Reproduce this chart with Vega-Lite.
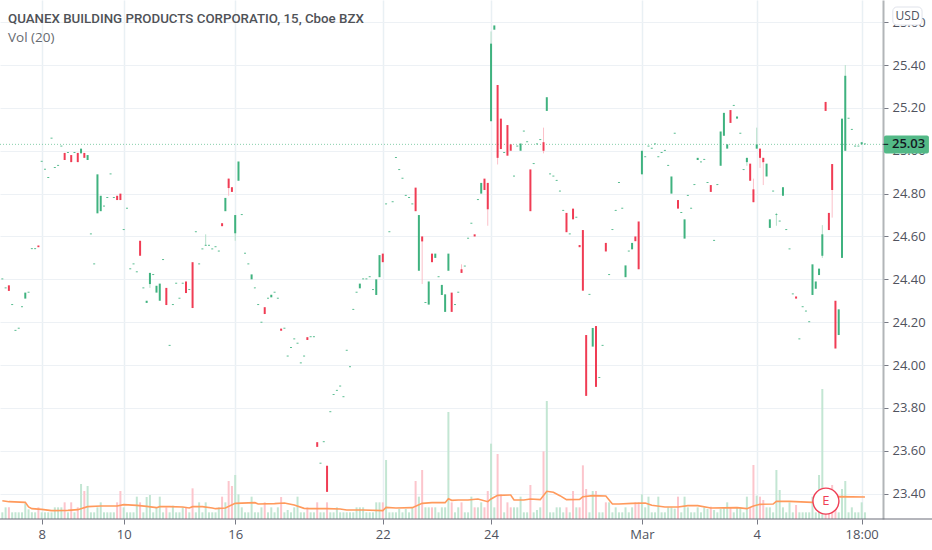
{
  "$schema": "https://vega.github.io/schema/vega-lite/v6.json",
  "width": 883,
  "height": 519,
  "autosize": "none",
  "padding": {"left": 0, "top": 0, "right": 49, "bottom": 31},
  "background": "#ffffff",
  "config": {"view": {"stroke": null}, "font": "Open Sans"},
  "title": {
    "text": "QUANEX BUILDING PRODUCTS CORPORATIO, 15, Cboe BZX",
    "subtitle": "Vol (20)",
    "anchor": "start",
    "frame": "group",
    "offset": -44,
    "dx": 8,
    "font": "Roboto",
    "fontSize": 13.3,
    "fontWeight": 500,
    "color": "#4f5257",
    "subtitleFont": "Open Sans",
    "subtitleFontSize": 13.5,
    "subtitleColor": "#666a70",
    "subtitlePadding": 5
  },
  "datasets": {
    "bars": [
      {"bar":0,"open":24.4,"close":24.404,"volume":100},
      {"bar":1,"open":24.358,"close":24.362,"volume":175},
      {"bar":2,"open":24.372,"close":24.346,"volume":175},
      {"bar":3,"open":24.28,"close":24.284,"volume":100},
      {"bar":4,"open":24.16,"close":24.164,"volume":100},
      {"bar":5,"open":24.17,"close":24.174,"volume":100},
      {"bar":6,"open":24.27,"close":24.274,"volume":100},
      {"bar":7,"open":24.31,"close":24.338,"volume":235},
      {"bar":8,"open":24.338,"close":24.342,"volume":145},
      {"bar":9,"open":24.541,"close":24.545,"volume":100},
      {"bar":10,"open":24.541,"close":24.545,"volume":100},
      {"bar":11,"open":24.558,"close":24.55,"volume":175},
      {"bar":12,"open":24.949,"close":24.953,"volume":100},
      {"bar":13,"open":24.912,"close":24.916,"volume":100},
      {"bar":14,"open":24.873,"close":24.877,"volume":100},
      {"bar":15,"open":25.057,"close":25.061,"volume":100},
      {"bar":16,"open":24.92,"close":24.924,"volume":175},
      {"bar":17,"open":24.93,"close":24.934,"volume":175},
      {"bar":18,"open":25.02,"close":25.024,"volume":175},
      {"bar":19,"open":24.99,"close":24.957,"volume":250},
      {"bar":20,"open":24.99,"close":24.994,"volume":100},
      {"bar":21,"open":24.98,"close":24.947,"volume":250},
      {"bar":22,"open":24.99,"close":24.994,"volume":100},
      {"bar":23,"open":24.99,"close":24.947,"volume":175},
      {"bar":24,"open":24.988,"close":25.01,"volume":525},
      {"bar":25,"open":24.99,"close":24.967,"volume":420},
      {"bar":26,"open":24.957,"close":24.98,"volume":495},
      {"bar":27,"open":24.61,"close":24.614,"volume":100},
      {"bar":28,"open":24.47,"close":24.474,"volume":100},
      {"bar":29,"open":24.708,"close":24.89,"volume":175},
      {"bar":30,"open":24.718,"close":24.79,"volume":250},
      {"bar":31,"open":24.74,"close":24.744,"volume":100},
      {"bar":32,"open":24.78,"close":24.784,"volume":100},
      {"bar":33,"open":24.89,"close":24.894,"volume":100},
      {"bar":34,"open":24.78,"close":24.784,"volume":100},
      {"bar":35,"open":24.79,"close":24.77,"volume":250},
      {"bar":36,"open":24.8,"close":24.77,"volume":420},
      {"bar":37,"open":24.63,"close":24.634,"volume":175},
      {"bar":38,"open":24.73,"close":24.734,"volume":100},
      {"bar":39,"open":24.447,"close":24.451,"volume":100},
      {"bar":40,"open":24.47,"close":24.474,"volume":100},
      {"bar":41,"open":24.433,"close":24.437,"volume":335},
      {"bar":42,"open":24.58,"close":24.51,"volume":250},
      {"bar":43,"open":24.358,"close":24.362,"volume":100},
      {"bar":44,"open":24.29,"close":24.3,"volume":330},
      {"bar":45,"open":24.378,"close":24.43,"high":24.43,"low":24.36,"volume":360},
      {"bar":46,"open":24.42,"close":24.424,"volume":100},
      {"bar":47,"open":24.338,"close":24.37,"volume":175},
      {"bar":48,"open":24.3,"close":24.38,"volume":335},
      {"bar":49,"open":24.49,"close":24.494,"volume":100},
      {"bar":50,"open":24.36,"close":24.28,"volume":175},
      {"bar":51,"open":24.09,"close":24.094,"volume":100},
      {"bar":52,"open":24.28,"close":24.284,"volume":200},
      {"bar":53,"open":24.38,"close":24.384,"volume":100},
      {"bar":54,"open":24.31,"close":24.314,"volume":100},
      {"bar":55,"open":24.38,"close":24.384,"volume":175},
      {"bar":56,"open":24.39,"close":24.336,"volume":175},
      {"bar":57,"open":24.35,"close":24.354,"volume":100},
      {"bar":58,"open":24.48,"close":24.266,"volume":460},
      {"bar":59,"open":24.62,"close":24.624,"volume":100},
      {"bar":60,"open":24.47,"close":24.474,"volume":250},
      {"bar":61,"open":24.54,"close":24.544,"volume":100},
      {"bar":62,"open":24.557,"close":24.561,"high":24.61,"low":24.557,"volume":250},
      {"bar":63,"open":24.557,"close":24.561,"volume":100},
      {"bar":64,"open":24.54,"close":24.544,"volume":100},
      {"bar":65,"open":24.55,"close":24.554,"volume":100},
      {"bar":66,"open":24.53,"close":24.534,"volume":175},
      {"bar":67,"open":24.662,"close":24.648,"volume":335},
      {"bar":68,"open":24.718,"close":24.78,"volume":250},
      {"bar":69,"open":24.87,"close":24.826,"high":24.87,"low":24.79,"volume":570},
      {"bar":70,"open":24.83,"close":24.808,"volume":495},
      {"bar":71,"open":24.615,"close":24.7,"high":24.7,"low":24.58,"volume":660},
      {"bar":72,"open":24.86,"close":24.95,"volume":370},
      {"bar":73,"open":24.7,"close":24.704,"volume":175},
      {"bar":74,"open":24.52,"close":24.524,"volume":100},
      {"bar":75,"open":24.47,"close":24.474,"volume":100},
      {"bar":76,"open":24.4,"close":24.423,"volume":335},
      {"bar":77,"open":24.358,"close":24.362,"volume":100},
      {"bar":78,"open":24.28,"close":24.284,"volume":100},
      {"bar":79,"open":24.198,"close":24.202,"volume":175},
      {"bar":80,"open":24.27,"close":24.238,"volume":250},
      {"bar":81,"open":24.31,"close":24.314,"volume":100},
      {"bar":82,"open":24.316,"close":24.328,"volume":175},
      {"bar":83,"open":24.338,"close":24.342,"volume":100},
      {"bar":84,"open":24.31,"close":24.314,"volume":175},
      {"bar":85,"open":24.17,"close":24.16,"volume":330},
      {"bar":86,"open":24.17,"close":24.174,"volume":100},
      {"bar":87,"open":24.04,"close":24.044,"volume":135},
      {"bar":88,"open":24.08,"close":24.084,"volume":100},
      {"bar":89,"open":24.12,"close":24.124,"volume":175},
      {"bar":90,"open":24.1,"close":24.104,"volume":335},
      {"bar":91,"open":24.008,"close":24.012,"volume":100},
      {"bar":92,"open":24.04,"close":24.044,"volume":100},
      {"bar":93,"open":24.13,"close":24.117,"volume":175},
      {"bar":94,"open":24.13,"close":24.134,"volume":100},
      {"bar":95,"open":24.13,"close":24.134,"volume":100},
      {"bar":96,"open":23.64,"close":23.618,"volume":250},
      {"bar":97,"open":23.54,"close":23.544,"volume":100},
      {"bar":98,"open":23.64,"close":23.644,"volume":100},
      {"bar":99,"open":23.53,"close":23.408,"volume":250},
      {"bar":100,"open":23.78,"close":23.784,"volume":100},
      {"bar":101,"open":23.86,"close":23.864,"volume":100},
      {"bar":102,"open":23.88,"close":23.884,"volume":175},
      {"bar":103,"open":23.9,"close":23.904,"volume":100},
      {"bar":104,"open":23.85,"close":23.854,"volume":100},
      {"bar":105,"open":24.067,"close":24.071,"volume":100},
      {"bar":106,"open":23.99,"close":23.994,"volume":100},
      {"bar":107,"open":24.258,"close":24.262,"volume":100},
      {"bar":108,"open":24.338,"close":24.342,"volume":175},
      {"bar":109,"open":24.358,"close":24.38,"volume":175},
      {"bar":110,"open":24.4,"close":24.404,"volume":175},
      {"bar":111,"open":24.4,"close":24.404,"volume":100},
      {"bar":112,"open":24.41,"close":24.414,"volume":100},
      {"bar":113,"open":24.35,"close":24.354,"volume":100},
      {"bar":114,"open":24.327,"close":24.4,"volume":250},
      {"bar":115,"open":24.41,"close":24.513,"volume":250},
      {"bar":116,"open":24.52,"close":24.48,"volume":250},
      {"bar":117,"open":24.75,"close":24.754,"volume":885},
      {"bar":118,"open":24.62,"close":24.624,"volume":100},
      {"bar":119,"open":24.76,"close":24.764,"volume":100},
      {"bar":120,"open":24.967,"close":24.971,"volume":100},
      {"bar":121,"open":24.91,"close":24.914,"volume":150},
      {"bar":122,"open":24.87,"close":24.874,"volume":100},
      {"bar":123,"open":24.79,"close":24.794,"volume":150},
      {"bar":124,"open":24.78,"close":24.784,"volume":100},
      {"bar":125,"open":24.75,"close":24.754,"volume":175},
      {"bar":126,"open":24.828,"close":24.718,"volume":570},
      {"bar":127,"open":24.44,"close":24.7,"volume":335},
      {"bar":128,"open":24.6,"close":24.577,"high":24.6,"low":24.378,"volume":735},
      {"bar":129,"open":24.29,"close":24.294,"volume":175},
      {"bar":130,"open":24.282,"close":24.39,"volume":175},
      {"bar":131,"open":24.52,"close":24.48,"volume":175},
      {"bar":132,"open":24.5,"close":24.52,"volume":175},
      {"bar":133,"open":24.41,"close":24.414,"volume":100},
      {"bar":134,"open":24.327,"close":24.374,"volume":175},
      {"bar":135,"open":24.248,"close":24.33,"volume":175},
      {"bar":136,"open":24.44,"close":24.52,"volume":1605},
      {"bar":137,"open":24.338,"close":24.248,"volume":250},
      {"bar":138,"open":24.28,"close":24.284,"volume":100},
      {"bar":139,"open":24.338,"close":24.342,"volume":175},
      {"bar":140,"open":24.447,"close":24.43,"high":24.47,"low":24.43,"volume":250},
      {"bar":141,"open":24.46,"close":24.464,"volume":100},
      {"bar":142,"open":24.59,"close":24.594,"volume":100},
      {"bar":143,"open":24.66,"close":24.664,"volume":335},
      {"bar":144,"open":24.61,"close":24.6,"volume":175},
      {"bar":145,"open":24.77,"close":24.774,"volume":175},
      {"bar":146,"open":24.8,"close":24.85,"volume":250},
      {"bar":147,"open":24.87,"close":24.817,"volume":175},
      {"bar":148,"open":24.85,"close":24.727,"high":24.85,"low":24.65,"volume":420},
      {"bar":149,"open":25.138,"close":25.5,"high":25.557,"low":25.138,"volume":1130},
      {"bar":150,"open":25.565,"close":25.585,"volume":175},
      {"bar":151,"open":25.307,"close":24.967,"high":25.307,"low":24.936,"volume":975},
      {"bar":152,"open":25.15,"close":25.008,"volume":370},
      {"bar":153,"open":24.99,"close":24.994,"volume":100},
      {"bar":154,"open":25.12,"close":24.977,"volume":250},
      {"bar":155,"open":25.03,"close":25.0,"volume":175},
      {"bar":156,"open":24.88,"close":24.884,"volume":175},
      {"bar":157,"open":25.02,"close":25.024,"volume":175},
      {"bar":158,"open":25.0,"close":25.034,"volume":335},
      {"bar":159,"open":25.09,"close":25.094,"volume":100},
      {"bar":160,"open":25.04,"close":25.044,"volume":100},
      {"bar":161,"open":24.913,"close":24.718,"volume":510},
      {"bar":162,"open":24.938,"close":24.942,"volume":100},
      {"bar":163,"open":25.03,"close":25.034,"volume":135},
      {"bar":164,"open":25.05,"close":25.054,"volume":175},
      {"bar":165,"open":25.04,"close":25.0,"high":25.108,"low":24.988,"volume":1015},
      {"bar":166,"open":25.186,"close":25.25,"volume":1770},
      {"bar":167,"open":24.89,"close":24.894,"volume":100},
      {"bar":168,"open":24.88,"close":24.884,"volume":100},
      {"bar":169,"open":24.86,"close":24.864,"volume":175},
      {"bar":170,"open":24.81,"close":24.814,"volume":175},
      {"bar":171,"open":24.72,"close":24.724,"volume":100},
      {"bar":172,"open":24.71,"close":24.62,"volume":175},
      {"bar":173,"open":24.61,"close":24.614,"volume":100},
      {"bar":174,"open":24.73,"close":24.68,"volume":420},
      {"bar":175,"open":24.688,"close":24.692,"volume":175},
      {"bar":176,"open":24.56,"close":24.55,"volume":175},
      {"bar":177,"open":24.63,"close":24.347,"volume":805},
      {"bar":178,"open":24.14,"close":23.856,"volume":450},
      {"bar":179,"open":24.328,"close":24.332,"volume":100},
      {"bar":180,"open":24.086,"close":24.173,"volume":420},
      {"bar":181,"open":24.182,"close":23.898,"volume":420},
      {"bar":182,"open":23.94,"close":23.944,"volume":100},
      {"bar":183,"open":24.09,"close":24.094,"volume":100},
      {"bar":184,"open":24.57,"close":24.53,"volume":250},
      {"bar":185,"open":24.42,"close":24.424,"volume":250},
      {"bar":186,"open":24.63,"close":24.634,"volume":100},
      {"bar":187,"open":24.72,"close":24.724,"volume":175},
      {"bar":188,"open":24.85,"close":24.854,"volume":100},
      {"bar":189,"open":24.73,"close":24.734,"volume":100},
      {"bar":190,"open":24.41,"close":24.465,"volume":175},
      {"bar":191,"open":24.53,"close":24.534,"volume":100},
      {"bar":192,"open":24.54,"close":24.57,"volume":175},
      {"bar":193,"open":24.6,"close":24.578,"volume":250},
      {"bar":194,"open":24.67,"close":24.447,"volume":250},
      {"bar":195,"open":24.89,"close":25.0,"volume":370},
      {"bar":196,"open":24.97,"close":24.974,"volume":175},
      {"bar":197,"open":25.02,"close":25.024,"volume":335},
      {"bar":198,"open":25.01,"close":25.014,"volume":100},
      {"bar":199,"open":25.03,"close":25.034,"volume":100},
      {"bar":200,"open":24.97,"close":24.974,"volume":335},
      {"bar":201,"open":24.99,"close":24.994,"volume":100},
      {"bar":202,"open":25.0,"close":25.004,"volume":100},
      {"bar":203,"open":24.93,"close":24.934,"volume":175},
      {"bar":204,"open":24.8,"close":24.88,"volume":175},
      {"bar":205,"open":25.08,"close":25.084,"volume":155},
      {"bar":206,"open":24.77,"close":24.73,"volume":335},
      {"bar":207,"open":24.71,"close":24.714,"volume":100},
      {"bar":208,"open":24.59,"close":24.68,"volume":335},
      {"bar":209,"open":24.79,"close":24.794,"volume":175},
      {"bar":210,"open":24.73,"close":24.734,"volume":100},
      {"bar":211,"open":24.84,"close":24.844,"volume":100},
      {"bar":212,"open":24.957,"close":24.967,"volume":175},
      {"bar":213,"open":24.946,"close":24.95,"volume":100},
      {"bar":214,"open":24.958,"close":24.962,"volume":175},
      {"bar":215,"open":24.85,"close":24.854,"volume":150},
      {"bar":216,"open":24.84,"close":24.808,"volume":185},
      {"bar":217,"open":24.58,"close":24.584,"volume":135},
      {"bar":218,"open":24.84,"close":24.844,"volume":100},
      {"bar":219,"open":24.93,"close":25.09,"volume":150},
      {"bar":220,"open":25.07,"close":25.177,"volume":175},
      {"bar":221,"open":25.01,"close":25.03,"volume":250},
      {"bar":222,"open":25.19,"close":25.13,"volume":175},
      {"bar":223,"open":25.21,"close":25.214,"volume":100},
      {"bar":224,"open":25.15,"close":25.16,"volume":175},
      {"bar":225,"open":25.08,"close":25.084,"volume":175},
      {"bar":226,"open":24.91,"close":24.914,"volume":100},
      {"bar":227,"open":24.947,"close":24.967,"high":24.967,"low":24.93,"volume":335},
      {"bar":228,"open":24.94,"close":24.86,"volume":175},
      {"bar":229,"open":24.82,"close":24.76,"high":24.87,"low":24.76,"volume":810},
      {"bar":230,"open":25.01,"close":25.03,"high":25.108,"low":25.01,"volume":350},
      {"bar":231,"open":25.01,"close":24.967,"high":25.01,"low":24.92,"volume":335},
      {"bar":232,"open":24.967,"close":24.947,"high":24.967,"low":24.84,"volume":285},
      {"bar":233,"open":24.88,"close":24.94,"volume":175},
      {"bar":234,"open":24.64,"close":24.68,"volume":175},
      {"bar":235,"open":24.81,"close":24.814,"volume":100},
      {"bar":236,"open":24.7,"close":24.704,"high":24.71,"low":24.65,"volume":735},
      {"bar":237,"open":24.67,"close":24.674,"volume":435},
      {"bar":238,"open":24.79,"close":24.83,"volume":175},
      {"bar":239,"open":24.63,"close":24.634,"volume":100},
      {"bar":240,"open":24.54,"close":24.544,"volume":250},
      {"bar":241,"open":24.33,"close":24.334,"volume":100},
      {"bar":242,"open":24.32,"close":24.31,"volume":210},
      {"bar":243,"open":24.12,"close":24.124,"volume":100},
      {"bar":244,"open":24.27,"close":24.274,"volume":100},
      {"bar":245,"open":24.25,"close":24.254,"volume":100},
      {"bar":246,"open":24.2,"close":24.204,"volume":100},
      {"bar":247,"open":24.327,"close":24.47,"volume":335},
      {"bar":248,"open":24.356,"close":24.39,"volume":100},
      {"bar":249,"open":24.42,"close":24.45,"volume":660},
      {"bar":250,"open":24.51,"close":24.61,"high":24.653,"low":24.5,"volume":1950},
      {"bar":251,"open":25.228,"close":25.186,"volume":460},
      {"bar":252,"open":24.71,"close":24.63,"volume":460},
      {"bar":253,"open":24.938,"close":24.817,"high":24.938,"low":24.688,"volume":510},
      {"bar":254,"open":24.3,"close":24.077,"volume":235},
      {"bar":255,"open":24.14,"close":24.26,"volume":100},
      {"bar":256,"open":24.5,"close":25.15,"volume":450},
      {"bar":257,"open":25.0,"close":25.35,"high":25.4,"low":25.0,"volume":570},
      {"bar":258,"open":25.15,"close":25.154,"volume":100},
      {"bar":259,"open":25.098,"close":25.102,"volume":175},
      {"bar":260,"open":25.02,"close":25.024,"volume":100},
      {"bar":261,"open":25.02,"close":25.024,"volume":100},
      {"bar":262,"open":25.03,"close":25.04,"volume":250},
      {"bar":263,"open":25.03,"close":25.034,"volume":100}
    ],
    "volumeAverage": [
      {"bar":0,"average":275},{"bar":2,"average":260},{"bar":7,"average":250},{"bar":8,"average":180},
      {"bar":9,"average":155},{"bar":12,"average":145},{"bar":15,"average":125},{"bar":20,"average":130},
      {"bar":23,"average":140},{"bar":26,"average":185},{"bar":30,"average":195},{"bar":35,"average":195},
      {"bar":37,"average":215},{"bar":41,"average":205},{"bar":44,"average":190},{"bar":47,"average":170},
      {"bar":48,"average":185},{"bar":51,"average":185},{"bar":55,"average":180},{"bar":57,"average":165},
      {"bar":58,"average":185},{"bar":61,"average":185},{"bar":64,"average":165},{"bar":65,"average":155},
      {"bar":68,"average":165},{"bar":71,"average":235},{"bar":77,"average":245},{"bar":78,"average":225},
      {"bar":83,"average":230},{"bar":86,"average":240},{"bar":89,"average":210},{"bar":92,"average":160},
      {"bar":94,"average":155},{"bar":99,"average":155},{"bar":103,"average":150},{"bar":105,"average":135},
      {"bar":110,"average":135},{"bar":116,"average":125},{"bar":117,"average":175},{"bar":120,"average":165},
      {"bar":125,"average":170},{"bar":128,"average":235},{"bar":131,"average":245},{"bar":135,"average":245},
      {"bar":136,"average":305},{"bar":137,"average":280},{"bar":139,"average":285},{"bar":142,"average":285},
      {"bar":145,"average":300},{"bar":148,"average":260},{"bar":149,"average":300},{"bar":151,"average":355},
      {"bar":155,"average":360},{"bar":156,"average":285},{"bar":159,"average":285},{"bar":161,"average":300},
      {"bar":164,"average":290},{"bar":166,"average":415},{"bar":168,"average":400},{"bar":170,"average":350},
      {"bar":172,"average":290},{"bar":176,"average":295},{"bar":177,"average":335},{"bar":180,"average":350},
      {"bar":184,"average":345},{"bar":186,"average":225},{"bar":188,"average":225},{"bar":192,"average":235},
      {"bar":196,"average":240},{"bar":198,"average":205},{"bar":202,"average":180},{"bar":206,"average":180},
      {"bar":209,"average":200},{"bar":212,"average":200},{"bar":216,"average":165},{"bar":224,"average":170},
      {"bar":227,"average":155},{"bar":229,"average":195},{"bar":231,"average":220},{"bar":235,"average":225},
      {"bar":236,"average":265},{"bar":240,"average":265},{"bar":247,"average":250},{"bar":255,"average":335},
      {"bar":263,"average":330}
    ]
  },
  "encoding": {
    "x": {
      "type": "quantitative",
      "title": null,
      "scale": {"domain": [-0.71, 268.5], "nice": false, "zero": false, "padding": 0},
      "axis": {
        "orient": "bottom",
        "grid": true,
        "values": [12, 37, 71, 116, 149, 195, 230, 262],
        "labelExpr": "{'12':'8','37':'10','71':'16','116':'22','149':'24','195':'Mar','230':'4','262':'18:00'}[datum.value]",
        "labelFont": "Open Sans",
        "labelFontSize": 13,
        "labelColor": "#50535e",
        "labelPadding": 4,
        "labelOverlap": false,
        "labelFlush": false,
        "tickColor": "#787b86",
        "tickSize": 5,
        "domain": false,
        "gridColor": "#e9f0f4",
        "gridWidth": 1.5
      }
    }
  },
  "layer": [
    {
      "layer": [
        {
          "data": {"name": "bars"},
          "mark": {"type": "bar", "width": 2},
          "encoding": {
            "x": {"field": "bar"},
            "y": {"field": "volume", "type": "quantitative", "scale": {"domain": [0, 7785], "nice": false, "zero": true}, "axis": null, "title": null},
            "color": {"condition": {"test": "datum.close >= datum.open", "value": "#c3e6d3"}, "value": "#fcc5cc"}
          }
        },
        {
          "data": {"name": "volumeAverage"},
          "mark": {"type": "line", "color": "#ff9a5c", "strokeWidth": 1.6},
          "encoding": {
            "x": {"field": "bar"},
            "y": {"field": "average", "type": "quantitative", "scale": {"domain": [0, 7785], "nice": false, "zero": true}, "axis": null, "title": null}
          }
        }
      ]
    },
    {
      "encoding": {
        "y": {
          "type": "quantitative",
          "title": null,
          "scale": {"domain": [23.2814, 25.7037], "nice": false, "zero": false},
          "axis": {
            "orient": "right",
            "grid": true,
            "values": [23.4, 23.6, 23.8, 24, 24.2, 24.4, 24.6, 24.8, 25, 25.2, 25.4, 25.6],
            "format": ".2f",
            "labelFont": "Open Sans",
            "labelFontSize": 13,
            "labelColor": "#50535e",
            "labelPadding": 4,
            "tickColor": "#787b86",
            "tickSize": 5,
            "domainColor": "#b2b5b8",
            "domainWidth": 2,
            "gridColor": "#edf1f5",
            "gridWidth": 1.2
          }
        }
      },
      "layer": [
        {
          "data": {"values": [{"label": "last price"}]},
          "mark": {"type": "rule", "color": "#53b987", "strokeDash": [1, 2], "strokeWidth": 1, "opacity": 0.7},
          "encoding": {"x": {"datum": -0.71}, "x2": {"datum": 268.5}, "y": {"datum": 25.03}}
        },
        {
          "data": {"name": "bars"},
          "transform": [{"filter": "datum.high != null"}],
          "mark": {"type": "rule", "strokeWidth": 1},
          "encoding": {
            "x": {"field": "bar"},
            "y": {"field": "high"},
            "y2": {"field": "low"},
            "color": {"condition": {"test": "datum.close >= datum.open", "value": "#b5e0ca"}, "value": "#fbc0c9"}
          }
        },
        {
          "data": {"name": "bars"},
          "mark": {"type": "rule", "strokeWidth": 2},
          "encoding": {
            "x": {"field": "bar"},
            "y": {"field": "open"},
            "y2": {"field": "close"},
            "color": {"condition": {"test": "datum.close >= datum.open", "value": "#3fb27f"}, "value": "#f03c54"}
          }
        },
        {
          "data": {"values": [{"label": "25.03"}]},
          "mark": {"type": "rect", "color": "#53b987", "cornerRadius": 2},
          "encoding": {
            "x": {"datum": 268.8},
            "x2": {"datum": 282.5},
            "y": {"datum": 25.071},
            "y2": {"datum": 24.987}
          }
        },
        {
          "data": {"values": [{"label": "25.03"}]},
          "mark": {"type": "rule", "color": "#131722", "strokeWidth": 1},
          "encoding": {
            "x": {"datum": 268.6},
            "x2": {"datum": 270.1},
            "y": {"datum": 25.03}
          }
        },
        {
          "data": {"values": [{"label": "25.03"}]},
          "mark": {"type": "text", "font": "Open Sans", "fontSize": 13, "fontWeight": 600, "color": "#131722", "align": "center", "baseline": "middle"},
          "encoding": {
            "x": {"datum": 276.3},
            "y": {"datum": 25.03},
            "text": {"field": "label"}
          }
        },
        {
          "data": {"values": [{"label": "USD"}]},
          "mark": {"type": "rect", "fill": "#ffffff", "stroke": "#e0e3eb", "strokeWidth": 1, "cornerRadius": 4},
          "encoding": {
            "x": {"datum": 271.5},
            "x2": {"datum": 280.4},
            "y": {"datum": 25.671},
            "y2": {"datum": 25.587}
          }
        },
        {
          "data": {"values": [{"label": "USD"}]},
          "mark": {"type": "text", "font": "Open Sans", "fontSize": 12, "color": "#50535e", "align": "center", "baseline": "middle"},
          "encoding": {
            "x": {"datum": 276},
            "y": {"datum": 25.63},
            "text": {"field": "label"}
          }
        },
        {
          "data": {"values": [{"label": "E"}]},
          "mark": {"type": "point", "filled": false, "fill": "#ffffff", "fillOpacity": 1, "stroke": "#ef3f56", "strokeWidth": 1.4, "opacity": 1, "size": 676},
          "encoding": {
            "x": {"datum": 251.1},
            "y": {"datum": 23.365}
          }
        },
        {
          "data": {"values": [{"label": "E"}]},
          "mark": {"type": "text", "font": "Open Sans", "fontSize": 13, "color": "#ef3f56", "align": "center", "baseline": "middle"},
          "encoding": {
            "x": {"datum": 251.1},
            "y": {"datum": 23.365},
            "text": {"field": "label"}
          }
        },
        {
          "data": {"values": [{"label": "time axis"}]},
          "mark": {"type": "rule", "color": "#6a6d78", "strokeWidth": 1},
          "encoding": {
            "x": {"datum": -0.71},
            "x2": {"datum": 283.5},
            "y": {"datum": 23.2814}
          }
        }
      ]
    }
  ],
  "resolve": {"scale": {"y": "independent"}, "axis": {"y": "independent"}}
}
